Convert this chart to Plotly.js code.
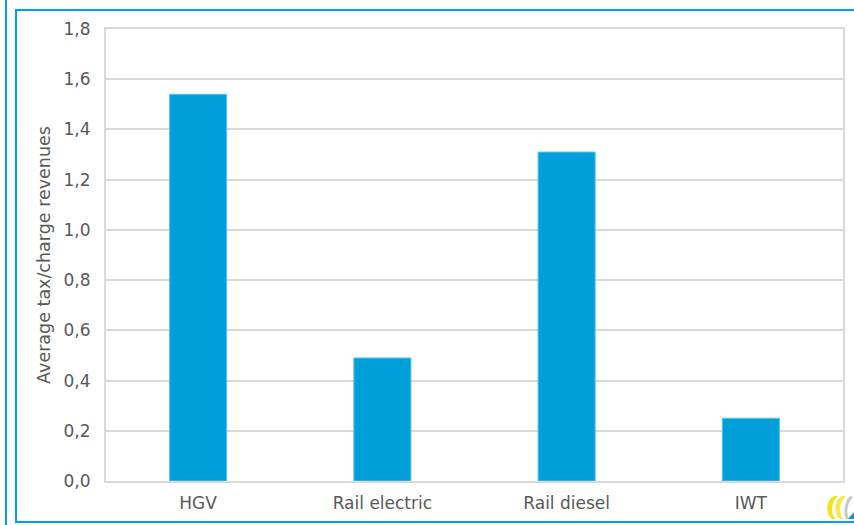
<!DOCTYPE html>
<html>
<head>
<meta charset="utf-8">
<script src="https://cdn.plot.ly/plotly-3.0.1.min.js"></script>
<style>
  html, body { margin: 0; padding: 0; background: #fff; }
  #wrap { position: relative; width: 854px; height: 525px; overflow: hidden; }
  #chart { position: absolute; left: 0; top: 0; width: 854px; height: 525px; }
  .frameL { position: absolute; left: 5px; top: 0; width: 2px; height: 525px; background: #00a0e3; }
  .frame { position: absolute; left: 15px; top: 9px; width: 860px; height: 514px; border: 2px solid #00a0e3; box-sizing: border-box; }
  #logo { position: absolute; left: 824px; top: 494px; }
</style>
</head>
<body>
<div id="wrap">
  <div class="frameL"></div>
  <div class="frame"></div>
  <div id="chart"></div>
  <svg id="logo" width="30" height="27" viewBox="0 0 30 27">
    <path d="M10 2 C2 6 1 20 8 25 L12 25 C6 20 7 8 14 2 Z" fill="#f2e21b"/>
    <path d="M18 2 C10 6 9 20 16 25 L20 25 C14 20 15 8 22 2 Z" fill="#f5ea4a"/>
    <path d="M26 2 C20 8 19 18 22 25 L25 25 C22 18 23 9 29 3 Z" fill="#c8c8c8"/>
    <path d="M24 25 L30 18 L30 25 Z" fill="#1a8fd6"/>
  </svg>
</div>
<script>
const categories = ["HGV", "Rail electric", "Rail diesel", "IWT"];
const values = [1.54, 0.49, 1.31, 0.25];
const yTicks = [0, 0.2, 0.4, 0.6, 0.8, 1.0, 1.2, 1.4, 1.6, 1.8];
const yTitle = "Average tax/charge revenues";

const trace = {
  type: "bar",
  x: categories,
  y: values,
  marker: { color: "#009fd9", line: { color: "#5cc4ec", width: 1 } },
  width: 0.31,
  hoverinfo: "x+y"
};

const layout = {
  width: 854,
  height: 525,
  margin: { l: 106, r: 11, t: 29, b: 44 },
  paper_bgcolor: "rgba(0,0,0,0)",
  plot_bgcolor: "#ffffff",
  separators: ", ",
  font: { family: "DejaVu Sans, sans-serif", color: "#595959", size: 17 },
  showlegend: false,
  xaxis: {
    showgrid: false,
    showline: true,
    linecolor: "#d9d9d9",
    linewidth: 2,
    mirror: true,
    ticks: "outside",
    ticklen: 6,
    tickcolor: "rgba(0,0,0,0)",
    tickfont: { size: 17, color: "#595959" }
  },
  yaxis: {
    range: [0, 1.8],
    tickvals: yTicks,
    tickformat: ".1f",
    showgrid: true,
    gridcolor: "#d9d9d9",
    gridwidth: 2,
    showline: true,
    linecolor: "#d9d9d9",
    linewidth: 2,
    mirror: true,
    zeroline: false,
    ticks: "outside",
    ticklen: 10,
    tickcolor: "rgba(0,0,0,0)",
    tickfont: { size: 17, color: "#595959" },
    title: { text: yTitle, font: { size: 17.5, color: "#595959" }, standoff: 8 }
  }
};

Plotly.newPlot("chart", [trace], layout, { displayModeBar: false, staticPlot: true });
</script>
</body>
</html>
